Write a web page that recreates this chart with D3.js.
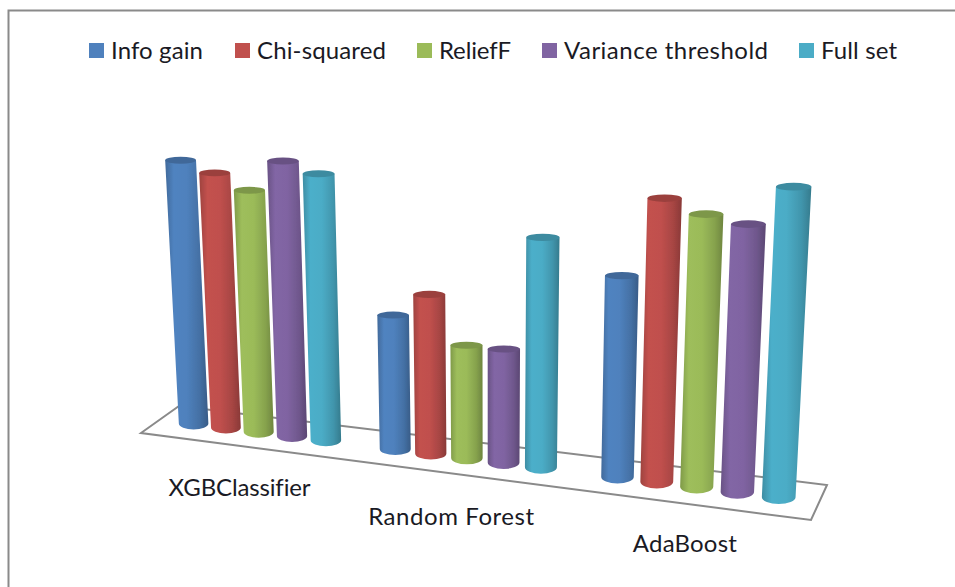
<!DOCTYPE html>
<html>
<head>
<meta charset="utf-8">
<script src="https://cdn.jsdelivr.net/npm/d3@7"></script>
<style>
  html, body { margin: 0; padding: 0; background: #fff; }
  text { font-family: Lato, "Open Sans", sans-serif; fill: #1a1a24; font-variant-ligatures: none; }
</style>
</head>
<body>
<div id="chart"></div>
<script>
const categories = ['XGBClassifier', 'Random Forest', 'AdaBoost'];
const seriesNames = ['Info gain', 'Chi-squared', 'ReliefF', 'Variance threshold', 'Full set'];
const seriesColors = ['#4f81bd', '#c0504d', '#9bbb59', '#8064a2', '#4bacc6'];

// no axis in the picture, values are read on a 0-100 scale
const infoGain = [94.7, 45.9, 65.7];
const chiSquared = [90.9, 54.1, 91.8];
const reliefF = [85.5, 38.0, 87.5];
const varianceThreshold = [96.6, 38.0, 85.2];
const fullSet = [92.9, 76.3, 97.9];
const seriesValues = [infoGain, chiSquared, reliefF, varianceThreshold, fullSet];

const width = 955;
const height = 587;

const svg = d3.select('#chart')
  .append('svg')
  .attr('width', width)
  .attr('height', height)
  .style('display', 'block');

const defs = svg.append('defs');
defs.append('filter')
  .attr('id', 'soft')
  .append('feGaussianBlur')
  .attr('stdDeviation', 0.7);

seriesNames.forEach((name, i) => {
  const c = seriesColors[i];
  const grad = defs.append('linearGradient').attr('id', 'cyl' + i);
  [[0, d3.color(c).darker(0.55)], [0.2, d3.color(c).brighter(0.05)], [0.5, d3.color(c)],
   [0.8, d3.color(c).darker(0.4)], [1, d3.color(c).darker(0.95)]].forEach(s => {
    grad.append('stop').attr('offset', s[0]).attr('stop-color', s[1].formatHex());
  });
});

// frame is only open on the right and bottom
svg.append('path')
  .attr('d', d3.line()([[8.5, height], [8.5, 10.5], [width, 10.5]]))
  .attr('fill', 'none')
  .attr('stroke', '#8a8a8a')
  .attr('stroke-width', 2);

// floor position t runs 0..1 left to right, foreshortened by perspective
const persp = 1.16;
const foreshorten = t => t / (t + persp * (1 - t));
const sizeAt = t => 1 / (persp + t * (1 - persp));

const frontX = d3.scaleLinear().domain([0, 1]).range([141, 811]);
const frontY = d3.scaleLinear().domain([0, 1]).range([433, 520]);
const backX = d3.scaleLinear().domain([0, 1]).range([179, 827]);
const backY = d3.scaleLinear().domain([0, 1]).range([406, 485]);
const barDepth = 0.5;
const barShift = 1.8;
const floorPoint = (t, d) => {
  const f = foreshorten(t);
  return [
    d3.interpolateNumber(frontX(f), backX(f))(d),
    d3.interpolateNumber(frontY(f), backY(f))(d)
  ];
};

const xCat = d3.scaleBand().domain(categories).range([0, 1]);
const xSeries = d3.scaleBand().domain(seriesNames).range([0, xCat.bandwidth()]).paddingOuter(0.5);
const y = d3.scaleLinear().domain([0, 100]).range([0, 320]);

const barRadius = 17;
const vanishX = 490;
const vanishDist = 6000;

svg.append('path')
  .attr('d', d3.line()([floorPoint(0, 0), floorPoint(0, 1), floorPoint(1, 1), floorPoint(1, 0)]) + 'Z')
  .attr('fill', '#fff')
  .attr('stroke', '#8a8a8a')
  .attr('stroke-width', 2);

const bars = [];
categories.forEach((cat, ci) => {
  seriesNames.forEach((name, si) => {
    bars.push({ cat, name, si, value: seriesValues[si][ci] });
  });
});

svg.append('g').attr('filter', 'url(#soft)')
  .selectAll('g')
  .data(bars)
  .join('g')
  .each(function (d) {
    const t = xCat(d.cat) + xSeries(d.name) + xSeries.bandwidth() / 2;
    const s = sizeAt(t);
    const [px, by] = floorPoint(t, barDepth);
    const bx = px + barShift;
    const h = y(d.value) * s;
    const lift = h / vanishDist;
    const tx = bx + (bx - vanishX) * lift;
    const ty = by - h;
    const rb = barRadius * s;
    const rt = rb * (1 + lift);
    const g = d3.select(this);
    g.append('path')
      .attr('d', `M${tx - rt},${ty}L${bx - rb},${by}A${rb},${rb * 0.4} 0 0 0 ${bx + rb},${by}L${tx + rt},${ty}Z`)
      .attr('fill', `url(#cyl${d.si})`);
    g.append('ellipse')
      .attr('cx', tx)
      .attr('cy', ty)
      .attr('rx', rt)
      .attr('ry', rt * 0.22)
      .attr('fill', d3.color(seriesColors[d.si]).darker(0.6).formatHex());
  });

// category labels sit under the front edge of the floor
const catLabelWidths = d3.scaleOrdinal().domain(categories).range([142, 166, 104]);
const catLabelDrop = d3.scaleOrdinal().domain(categories).range([50, 52, 48]);
svg.append('g')
  .selectAll('text')
  .data(categories)
  .join('text')
  .attr('x', d => frontX(foreshorten(xCat(d) + xCat.bandwidth() / 2)))
  .attr('y', d => frontY(foreshorten(xCat(d) + xCat.bandwidth() / 2)) + catLabelDrop(d))
  .attr('text-anchor', 'middle')
  .attr('textLength', d => catLabelWidths(d))
  .style('font-size', '24px')
  .text(d => d);

// legend
const legendX = d3.scaleOrdinal().domain(seriesNames).range([89, 235, 417, 542, 799]);
const legendWidths = d3.scaleOrdinal().domain(seriesNames).range([92, 129, 72, 204, 76]);
const legend = svg.append('g')
  .selectAll('g')
  .data(seriesNames)
  .join('g')
  .attr('transform', d => `translate(${legendX(d)},43)`);
legend.append('rect')
  .attr('width', 15)
  .attr('height', 15)
  .attr('fill', (d, i) => seriesColors[i]);
legend.append('text')
  .attr('x', 22)
  .attr('y', 16)
  .attr('textLength', d => legendWidths(d))
  .style('font-size', '24px')
  .text(d => d);
</script>
</body>
</html>
